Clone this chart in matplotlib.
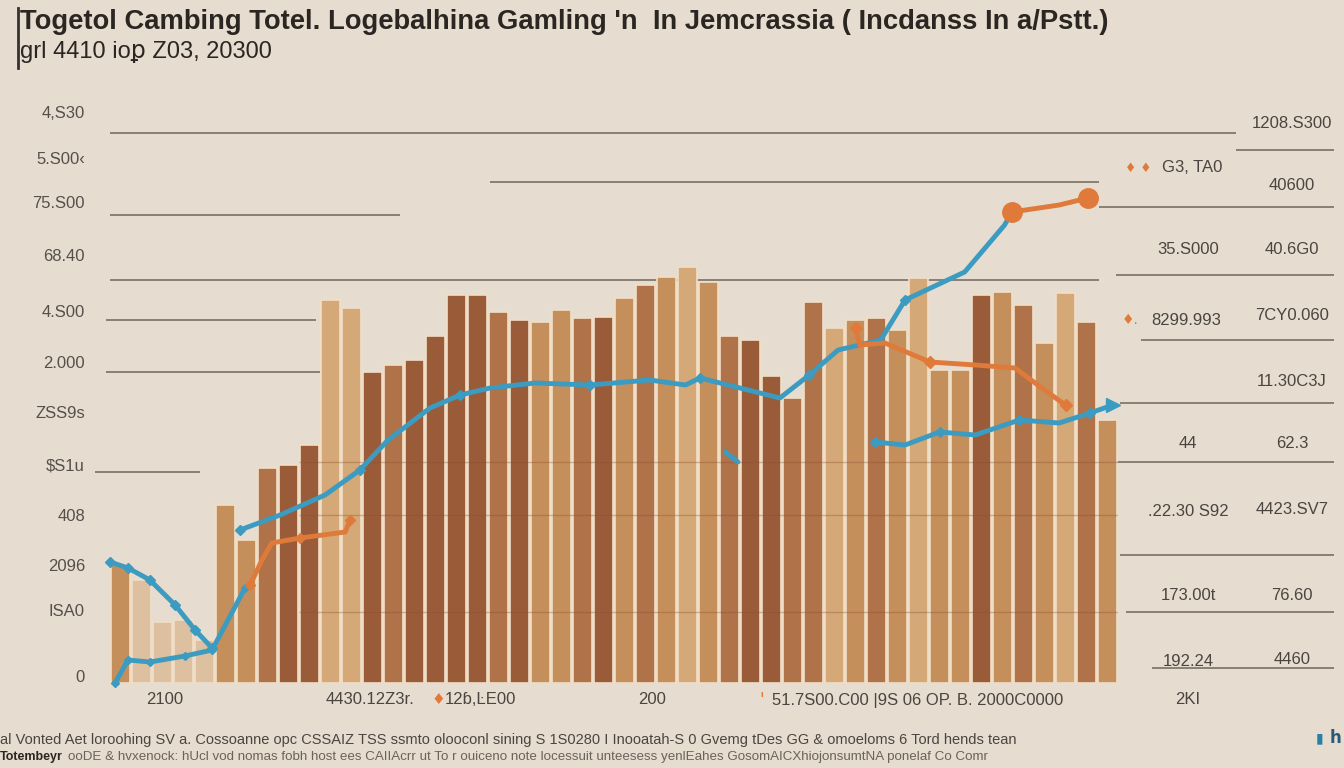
import matplotlib
matplotlib.use("Agg")
import matplotlib.pyplot as plt
from matplotlib import font_manager
from matplotlib.lines import Line2D

W, H = 1344, 768
BG = "#e6dccf"

# bar heights (one per bar, left to right)
bar_values = [1180, 1030, 610, 630, 430, 1780, 1430, 2150, 2180, 2380,
              3830, 3750, 3110, 3180, 3230, 3470, 3880, 3880, 3710, 3630,
              3610, 3730, 3650, 3660, 3850, 3980, 4060, 4160, 4010, 3470,
              3430, 3070, 2850, 3810, 3550, 3630, 3650, 3530, 4050, 3130,
              3130, 3880, 3910, 3780, 3400, 3900, 3610, 2630]
bar_shades = ["t", "l", "l", "l", "l", "t", "t", "m", "d", "d",
              "lt", "lt", "d", "m", "d", "d", "d", "d", "m", "d",
              "t", "t", "m", "d", "t", "m", "t", "lt", "t", "m",
              "d", "d", "m", "m", "lt", "t", "m", "t", "lt", "t",
              "t", "d", "t", "m", "t", "lt", "m", "t"]

# line series: (x position in bar units, value)
blue_left_x = [-0.5, 0.36, 1.4, 2.6, 3.55, 4.36]
blue_left_y = [1210, 1150, 1030, 780, 530, 350]
blue_low_x = [-0.26, 0.36, 1.4, 3.07, 4.36, 5.93]
blue_low_y = [0, 230, 210, 270, 330, 950]
blue_main_x = [5.69, 7.6, 9.74, 11.4, 12.74, 14.74, 16.17, 17.6, 19.74, 22.36,
               25.2, 26.9, 27.6, 29.5, 31.4, 32.8, 34.17, 36.2, 37.36, 40.2,
               42.1, 42.45]
blue_main_y = [1530, 1680, 1880, 2130, 2430, 2750, 2880, 2950, 3000, 2980,
               3030, 2980, 3050, 2950, 2850, 3080, 3330, 3430, 3830, 4110,
               4580, 4710]
blue_right_x = [35.93, 37.36, 39.0, 40.7, 42.8, 44.7, 46.17, 47.26]
blue_right_y = [2410, 2380, 2510, 2480, 2630, 2600, 2700, 2780]
blue_bit_x = [28.8, 29.4]
blue_bit_y = [2310, 2210]
orange_top_x = [42.45, 44.7, 46.07]
orange_top_y = [4710, 4780, 4850]
orange_left_x = [6.17, 6.74, 7.2, 8.55, 10.7, 10.93]
orange_left_y = [980, 1230, 1400, 1450, 1510, 1630]
orange_mid_x = [35.0, 35.2, 36.4, 38.55, 40.7, 42.6, 44.0, 45.0]
orange_mid_y = [3550, 3380, 3400, 3210, 3180, 3150, 2930, 2780]

# y tick labels (left)
ytick_values = [5710, 5250, 4810, 4280, 3720, 3210, 2710, 2180, 1680, 1180, 730, 70]
ytick_labels = ["4,S30", "5.S00‹", "75.S00", "68.40", "4.S00", "2.000",
                "ZSS9s", "$S1u", "408", "2096", "ISA0", "0"]

# horizontal rules: (value, x from, x to) in bar units
rules = [(5500, -0.5, 53.1), (5010, 17.6, 46.6), (4680, -0.5, 13.3),
         (4030, -0.5, 46.6), (3630, -0.7, 9.3), (3110, -0.7, 9.5),
         (2110, -1.2, 3.8), (5330, 53.1, 57.8), (4760, 46.6, 57.8),
         (4080, 47.4, 57.8), (3430, 48.6, 57.8), (2800, 47.6, 57.8),
         (2210, 47.4, 57.8), (1280, 47.6, 57.8), (710, 47.9, 57.8),
         (150, 49.1, 57.8)]

# right-hand text columns
right_a = ["35.S000", "44", ".22.30 S92", "173.00t", "192.24"]
right_a_y = [250, 443, 512, 595, 662]
right_b = ["1208.S300", "40600", "40.6G0", "7CY0.060", "11.30C3J", "62.3",
           "4423.SV7", "76.60", "4460"]
right_b_y = [124, 185, 250, 316, 381, 443, 510, 595, 660]

x_labels = [(165, "2100"), (370, "4430.12Z3r."), (480, "12ɓ,ĿE00"), (652, "200"),
            (918, "51.7S00.C00 |9S 06 OP. B. 2000C0000"), (1188, "2KI")]

names = {f.name for f in font_manager.fontManager.ttflist}
sans = "Liberation Sans" if "Liberation Sans" in names else "DejaVu Sans"
narrow = "Liberation Sans Narrow" if "Liberation Sans Narrow" in names else sans

shade = {"d": "#9a5b39", "m": "#b07249", "t": "#c58f5c", "lt": "#d4a877", "l": "#dcc0a0"}
BLUE = "#3b9bc1"
ORANGE = "#df7a3a"

fig = plt.figure(figsize=(W / 100, H / 100), dpi=100, facecolor=BG)
ax = fig.add_axes([110 / W, (H - 683) / H, 1008 / W, 590 / H])
ax.set_facecolor("none")
ax.set_xlim(-0.5, 47.5)
ax.set_ylim(0, 5900)

for v, x0, x1 in rules:
    ax.hlines(v, x0, x1, color="#7a6f66", lw=1.2, clip_on=False, zorder=0)

xs = list(range(len(bar_values)))
ax.bar(xs, bar_values, width=0.88, color=[shade[s] for s in bar_shades],
       edgecolor="#f1dfc6", linewidth=1.2, zorder=2)
for v in (710, 1680, 2210):
    ax.hlines(v, 8.5, 47.5, color="#8a4f2f", lw=1.0, alpha=0.35, zorder=3)

lk = dict(lw=3.5, solid_capstyle="round", zorder=5, clip_on=False)
ax.plot(blue_left_x, blue_left_y, color=BLUE, marker="D", ms=5, **lk)
ax.plot(blue_low_x, blue_low_y, color=BLUE, marker="D", ms=4, **lk)
ax.plot(blue_main_x, blue_main_y, color=BLUE, marker="D", ms=5, markevery=3, **lk)
ax.plot(blue_right_x[:-1], blue_right_y[:-1], color=BLUE, marker="D", ms=5, markevery=2, **lk)
ax.plot(blue_right_x[-2:], blue_right_y[-2:], color=BLUE, marker=">", ms=10, markevery=[1], **lk)
ax.plot(blue_bit_x, blue_bit_y, color=BLUE, **lk)
ax.plot(orange_left_x, orange_left_y, color=ORANGE, marker="D", ms=5, markevery=[0, 3, 5], **lk)
ax.plot(orange_mid_x, orange_mid_y, color=ORANGE, marker="D", ms=6, markevery=[0, 3, 7], **lk)
ax.plot(orange_top_x, orange_top_y, color=ORANGE, marker="o", ms=14, markevery=[0, 2], **lk)

for s in ax.spines.values():
    s.set_visible(False)
ax.set_xticks([])
ax.set_yticks(ytick_values)
ax.set_yticklabels(ytick_labels, fontsize=12, color="#55504b", fontfamily=sans)
ax.tick_params(axis="y", length=0, pad=18)

def px(x, y):
    return x / W, 1 - y / H

fig.add_artist(Line2D([18 / W, 18 / W], [1 - 8 / H, 1 - 68 / H], color="#333", lw=2))
fig.text(*px(20, 22), "Togetol Cambing Totel. Logebalhina Gamling 'n  In Jemcrassia ( Incdanss In a/Pstt.)",
         fontsize=19.7, fontweight="bold", color="#2b2622", fontfamily=narrow, va="center")
fig.text(*px(20, 52), "grl 4410 ioꝑ Z03, 20300", fontsize=17, color="#2b2622",
         fontfamily=[narrow, "DejaVu Sans"], va="center")

for x, t in x_labels:
    fig.text(*px(x, 700), t, fontsize=12, color="#4a4540", fontfamily=[sans, "DejaVu Sans"],
             ha="center", va="center")
fig.text(*px(438, 700), "♦", fontsize=11, color=ORANGE, ha="center", va="center")
fig.text(*px(762, 700), "'", fontsize=12, color=ORANGE, ha="center", va="center")

for t, y in zip(right_a, right_a_y):
    fig.text(*px(1188, y), t, fontsize=12, color="#4a4540", fontfamily=sans, ha="center", va="center")
for t, y in zip(right_b, right_b_y):
    fig.text(*px(1292, y), t, fontsize=12, color="#4a4540", fontfamily=sans, ha="center", va="center")
fig.text(*px(1138, 168), "♦ ♦", fontsize=9, color=ORANGE, ha="center", va="center")
fig.text(*px(1192, 168), "G3, TA0", fontsize=12, color="#4a4540", fontfamily=sans, ha="center", va="center")
fig.text(*px(1130, 320), "♦.", fontsize=10, color=ORANGE, ha="center", va="center")
fig.text(*px(1186, 320), "8299.993", fontsize=12, color="#4a4540", fontfamily=sans, ha="center", va="center")

fig.text(*px(0, 740), "al Vonted Aet loroohing SV a. Cossoanne opc CSSAIZ TSS ssmto olooconl sining "
         "S 1S0280 I Inooatah-S 0 Gvemg tDes GG & omoeloms 6 Tord hends tean",
         fontsize=10.5, color="#4a4540", fontfamily=narrow, va="center")
fig.text(*px(0, 757), "Totembeyr", fontsize=9, fontweight="bold", color="#2b2622",
         fontfamily=narrow, va="center")
fig.text(*px(68, 757), "ooDE & hvxenock: hUcl vod nomas fobh host ees CAIIAcrr ut To r ouiceno note "
         "locessuit unteesess yenlEahes GosomAICXhiojonsumtNA ponelaf Co Comr",
         fontsize=9.6, color="#6a635c", fontfamily=narrow, va="center")
fig.text(*px(1316, 738), "▮", fontsize=10, color="#2a7fa8", va="center")
fig.text(*px(1330, 738), "h", fontsize=12, fontweight="bold", color="#2a5a78", va="center")

fig.savefig("out.png", dpi=100, facecolor=BG)
